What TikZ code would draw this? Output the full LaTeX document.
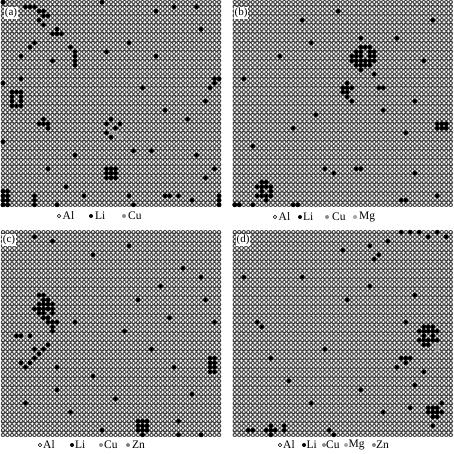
\documentclass[tikz,border=0pt]{standalone}
\usepackage{fontspec}
\setmainfont{Liberation Serif}
\tikzset{
  alouter/.style={draw=black!75, line width=4.5bp, line cap=round, dash pattern=on 0.01bp off 4.49bp},
  alinner/.style={draw=white, line width=2.4bp, line cap=round, dash pattern=on 0.01bp off 4.49bp},
  lidot/.style={fill=black},
  cudot/.style={fill=black!40},
  panellabel/.style={fill=white, inner sep=0.6bp, font=\fontsize{11bp}{12bp}\selectfont},
  legtext/.style={anchor=west, inner sep=0pt, font=\fontsize{11.5bp}{12bp}\selectfont},
  almark/.style={circle, draw=black, line width=0.5bp, fill=white, minimum size=3.6bp, inner sep=0pt},
  limark/.style={circle, fill=black, minimum size=4bp, inner sep=0pt},
  cumark/.style={circle, fill=black!45, minimum size=4bp, inner sep=0pt},
  mgmark/.style={circle, fill=black!35, minimum size=4bp, inner sep=0pt},
  znmark/.style={circle, fill=black!50, minimum size=4bp, inner sep=0pt},
}
\newcommand{\latticerows}[1]{%
  \foreach \r in {0,...,#1}{%
    \draw[alouter] (0.5,\r+.5) -- (48.7,\r+.5);
    \draw[alinner] (0.5,\r+.5) -- (48.7,\r+.5);}}
\begin{document}
\begin{tikzpicture}[x=1bp,y=-1bp]
\useasboundingbox[fill=white] (0,0) rectangle (454,454);
% ---------- panel (a)
\begin{scope}[shift={(0.75,0)}, x=4.5bp, y=-4.5bp]
\latticerows{45}
\foreach \c/\r in {0/0,5/1,6/1,7/1,8/2,9/2,9/3,10/3,8/4,9/5,12/6,11/7,12/7,13/7,7/9,6/10,15/10,16/11,16/12,16/13,16/14,4/12,11/13,4/17,0/18,
 2/20,3/20,4/20,2/21,4/21,2/22,4/22,2/23,3/23,4/23,
 0/31,8/27,9/27,10/27,9/26,10/28,
 23/27,24/26,25/28,23/29,26/27,24/30,
 23/37,24/37,25/37,23/38,24/38,25/38,23/39,24/39,25/39,
 0/42,1/42,0/43,1/43,0/44,1/44,0/45,1/45,7/43,7/44,7/45,
 12/45,18/43,28/43,29/45,36/43,37/43,39/43,42/44,48/43,48/44,48/45,
 22/0,34/2,38/1,43/1,44/6,28/9,23/11,34/12,31/19,45/22,36/24,41/26,16/34,33/33,29/33,43/34,47/37,45/39,10/37,14/41,47/17,48/17,47/18,46/19}
 \fill[lidot] (\c+.5,\r+.5) circle[radius=.55];
\foreach \c/\r in {25/29,24/29,26/30}
 \fill[cudot] (\c+.5,\r+.5) circle[radius=.45];
\end{scope}
% ---------- panel (b)
\begin{scope}[shift={(232.5,0)}, x=4.5bp, y=-4.5bp]
\latticerows{45}
\foreach \c/\r in {28/8,28/10,29/10,30/10,27/11,28/11,30/11,31/11,26/12,27/12,28/12,30/12,31/12,26/13,27/13,28/13,29/13,30/13,31/13,27/14,28/14,29/14,30/14,28/15,31/16,
 25/18,24/19,25/19,26/19,24/20,25/20,25/21,26/22,32/19,33/19,
 45/27,46/27,47/27,45/28,46/28,47/28,
 6/40,7/40,5/41,6/41,7/41,8/41,6/42,8/42,5/43,6/43,7/43,8/43,7/44,
 0/45,1/45,4/45,13/45,14/45,37/44,38/44,
 15/4,17/9,2/17,4/32,13/28,20/37,22/38,27/37,28/37,40/22,38/29,42/13,44/4,10/12,33/24,18/25,45/43,36/8,23/2,40/38}
 \fill[lidot] (\c+.5,\r+.5) circle[radius=.55];
\end{scope}
% ---------- panel (c)
\begin{scope}[shift={(0.75,230)}, x=4.5bp, y=-4.5bp]
\latticerows{45}
\foreach \c/\r in {8/14,9/14,9/15,10/15,8/16,9/16,10/16,11/16,7/17,8/17,9/17,10/17,11/17,8/18,9/18,11/18,9/19,10/19,
 10/20,11/20,12/20,11/21,11/22,3/23,4/23,6/23,10/25,
 9/26,8/27,7/28,6/29,5/30,4/29,12/30,7/26,
 46/28,47/28,46/29,47/29,46/30,47/30,47/31,46/31,
 30/42,31/42,32/42,30/43,31/43,32/43,30/44,31/44,32/44,31/45,
 22/44,39/45,44/45,39/42,
 7/1,11/2,20/5,28/3,40/8,44/10,35/12,16/20,27/22,33/26,38/30,20/32,12/35,25/37,42/36,15/40,5/38,47/20,45/15,30/15,37/19}
 \fill[lidot] (\c+.5,\r+.5) circle[radius=.55];
\foreach \c/\r in {5/23}
 \fill[cudot] (\c+.5,\r+.5) circle[radius=.45];
\end{scope}
% ---------- panel (d)
\begin{scope}[shift={(232.5,230)}, x=4.5bp, y=-4.5bp]
\latticerows{45}
\foreach \c/\r in {37/0,39/0,41/0,43/1,45/0,47/1,34/2,30/3,32/5,31/6,
 38/20,42/21,43/21,44/21,41/22,42/22,43/22,44/22,45/22,42/23,44/23,41/24,42/24,43/24,44/24,45/24,42/25,43/25,
 37/28,38/28,39/28,38/29,42/31,46/38,39/39,
 43/39,44/39,45/39,43/40,44/40,45/40,46/40,44/41,45/41,
 3/44,4/44,7/44,8/44,9/44,8/43,8/45,11/43,11/44,21/44,22/45,44/43,
 5/20,6/21,15/10,25/15,30/12,20/26,36/30,12/33,28/35,40/34,17/38,33/40,8/28,40/14,24/4,2/10}
 \fill[lidot] (\c+.5,\r+.5) circle[radius=.55];
\foreach \c/\r in {45/25,45/26}
 \fill[cudot] (\c+.5,\r+.5) circle[radius=.45];
\end{scope}
% ---------- panel labels
\node[panellabel] (lba) at (11,13) {(a)};
\node[panellabel] (lbb) at (241,13) {(b)};
\node[panellabel] (lbc) at (9,240) {(c)};
\node[panellabel] (lbd) at (243,240) {(d)};
% ---------- legends
\node[almark] (a1) at (59,216) {};  \node[legtext] (ta1) at (62.5,216) {Al};
\node[limark] (a2) at (91,216) {};  \node[legtext] (ta2) at (95,216) {Li};
\node[cumark] (a3) at (124,216) {}; \node[legtext] (ta3) at (128,216) {Cu};
\node[almark] (b1) at (275,217) {}; \node[legtext] (tb1) at (278.5,217) {Al};
\node[limark] (b2) at (300,217) {}; \node[legtext] (tb2) at (303,217) {Li};
\node[cumark] (b3) at (327,217) {}; \node[legtext] (tb3) at (332,217) {Cu};
\node[mgmark] (b4) at (355,217) {}; \node[legtext] (tb4) at (359,217) {Mg};
\node[almark] (c1) at (40,445) {};  \node[legtext] (tc1) at (43,445) {Al};
\node[limark] (c2) at (72,445) {};  \node[legtext] (tc2) at (75,445) {Li};
\node[cumark] (c3) at (101,445) {}; \node[legtext] (tc3) at (104,445) {Cu};
\node[znmark] (c4) at (128,445) {}; \node[legtext] (tc4) at (132,445) {Zn};
\node[almark] (d1) at (280,445) {}; \node[legtext] (td1) at (283,445) {Al};
\node[limark] (d2) at (304,445) {}; \node[legtext] (td2) at (306.5,445) {Li};
\node[cumark] (d3) at (324,445) {}; \node[legtext] (td3) at (326,445) {Cu};
\node[mgmark] (d4) at (346,445) {}; \node[legtext] (td4) at (348.5,445) {Mg};
\node[znmark] (d5) at (374,445) {}; \node[legtext] (td5) at (376,445) {Zn};
\end{tikzpicture}
\end{document}
